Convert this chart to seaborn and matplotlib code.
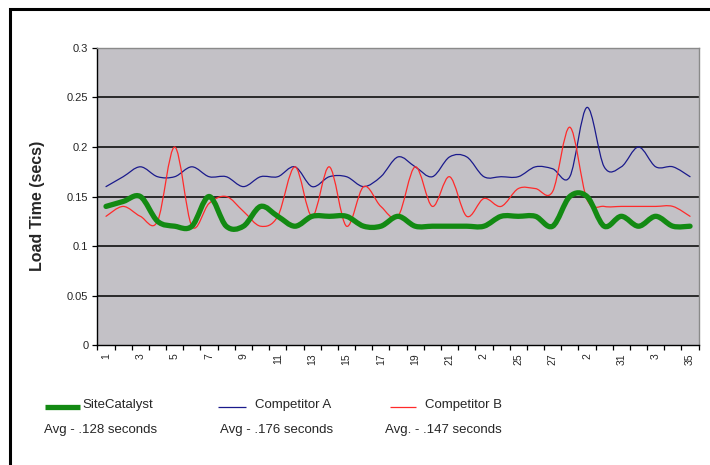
import numpy as np
import matplotlib
matplotlib.use("Agg")
import matplotlib.pyplot as plt
from matplotlib.path import Path
from matplotlib.patches import PathPatch, Rectangle
from matplotlib.lines import Line2D
import seaborn as sns

# Load time per test run (secs)
runs = list(range(1, 36))
site_catalyst = [0.14, 0.145, 0.15, 0.125, 0.12, 0.12, 0.15, 0.12, 0.12, 0.14,
                 0.13, 0.12, 0.13, 0.13, 0.13, 0.12, 0.12, 0.13, 0.12, 0.12,
                 0.12, 0.12, 0.12, 0.13, 0.13, 0.13, 0.12, 0.15, 0.15, 0.12,
                 0.13, 0.12, 0.13, 0.12, 0.12]
competitor_a = [0.16, 0.17, 0.18, 0.17, 0.17, 0.18, 0.17, 0.17, 0.16, 0.17,
                0.17, 0.18, 0.16, 0.17, 0.17, 0.16, 0.17, 0.19, 0.18, 0.17,
                0.19, 0.19, 0.17, 0.17, 0.17, 0.18, 0.178, 0.17, 0.24, 0.18,
                0.18, 0.20, 0.18, 0.18, 0.17]
competitor_b = [0.13, 0.14, 0.13, 0.125, 0.20, 0.12, 0.143, 0.15, 0.135, 0.12,
                0.13, 0.18, 0.13, 0.18, 0.12, 0.16, 0.14, 0.13, 0.18, 0.14,
                0.17, 0.13, 0.148, 0.14, 0.158, 0.158, 0.155, 0.22, 0.147, 0.14,
                0.14, 0.14, 0.14, 0.14, 0.13]
tick_runs = list(range(1, 36, 2))
tick_labels = ["1", "3", "5", "7", "9", "11", "13", "15", "17", "19", "21",
               "2", "25", "27", "2", "31", "3", "35"]

series_names = ["SiteCatalyst", "Competitor A", "Competitor B"]
averages = ["Avg - .128 seconds", "Avg - .176 seconds", "Avg. - .147 seconds"]
colors = ["#138a13", "#1a1a8c", "#ff2a2a"]
widths = [3.8, 0.9, 0.9]

sns.set_theme(style="ticks")
plt.rcParams["font.family"] = ["Liberation Sans", "DejaVu Sans"]


def smooth_path(x, y):
    # Excel-style smoothed line: cubic bezier through every point
    x = np.asarray(x, float)
    y = np.asarray(y, float)
    n = len(x)
    verts = [(x[0], y[0])]
    codes = [Path.MOVETO]
    for i in range(n - 1):
        p0 = np.array([x[max(i - 1, 0)], y[max(i - 1, 0)]])
        p1 = np.array([x[i], y[i]])
        p2 = np.array([x[i + 1], y[i + 1]])
        p3 = np.array([x[min(i + 2, n - 1)], y[min(i + 2, n - 1)]])
        c1 = p1 + (p2 - p0) / 6
        c2 = p2 - (p3 - p1) / 6
        verts += [tuple(c1), tuple(c2), tuple(p2)]
        codes += [Path.CURVE4] * 3
    return Path(verts, codes)


fig = plt.figure(figsize=(7.1, 4.65), dpi=100)
fig.patch.set_facecolor("white")
ax = fig.add_axes([0.1372, 0.258, 0.8468, 0.6388])
ax.set_facecolor("#c3c1c6")

ax.set_xlim(0.5, 35.5)
ax.set_ylim(0, 0.3)

for y_vals, c, w in zip([competitor_a, competitor_b, site_catalyst], [colors[1], colors[2], colors[0]],
                        [widths[1], widths[2], widths[0]]):
    ax.add_patch(PathPatch(smooth_path(runs, y_vals), facecolor="none", edgecolor=c,
                           lw=w, capstyle="round", joinstyle="round", zorder=3))

yt = [0, 0.05, 0.1, 0.15, 0.2, 0.25, 0.3]
ax.set_yticks(yt)
ax.set_yticklabels(["0", "0.05", "0.1", "0.15", "0.2", "0.25", "0.3"], fontsize=8)
for v in yt[1:-1]:
    ax.axhline(v, color="black", lw=1.1, zorder=1)

ax.set_xticks(tick_runs)
ax.set_xticklabels(tick_labels, rotation=90, fontsize=7.5)
ax.tick_params(axis="x", which="major", length=0, pad=6)
ax.set_xticks(np.arange(0.5, 36, 1), minor=True)
ax.tick_params(axis="x", which="minor", length=3.5, width=0.9, color="black", direction="out")
ax.tick_params(axis="y", length=3.5, width=0.9, color="black", direction="out", pad=3)

for s in ["left", "bottom"]:
    ax.spines[s].set_color("black")
    ax.spines[s].set_linewidth(1.0)
for s in ["top", "right"]:
    ax.spines[s].set_color("#8a8a8a")
    ax.spines[s].set_linewidth(1.0)

ax.set_ylabel("Load Time (secs)", fontsize=11.5, fontweight="bold", labelpad=9)
ax.yaxis.set_label_coords(-0.087, 0.47)

# outer chart border
fig.add_artist(Rectangle((10 / 710, -0.05), 1.1, 1 - 9 / 465 + 0.05, transform=fig.transFigure,
                         fill=False, edgecolor="black", lw=2.2))

# legend below the chart
key_x = [(45, 80), (218, 246), (390, 416)]
name_x = [82, 255, 425]
avg_x = [44, 220, 385]
for i in range(3):
    yk = 1 - 407 / 465
    fig.add_artist(Line2D([key_x[i][0] / 710, key_x[i][1] / 710], [yk, yk], color=colors[i],
                          lw=widths[i], transform=fig.transFigure, solid_capstyle="butt"))
    fig.text(name_x[i] / 710, 1 - 405 / 465, series_names[i], fontsize=9.5, va="center", ha="left")
    fig.text(avg_x[i] / 710, 1 - 430 / 465, averages[i], fontsize=9.5, va="center", ha="left")

fig.savefig("out.png", dpi=100)
